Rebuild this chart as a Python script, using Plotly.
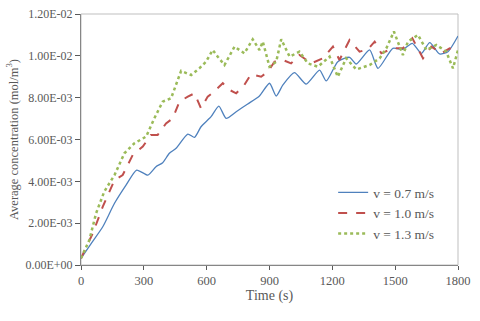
import plotly.graph_objects as go

# time (s) and average concentration (mol/m3)
t_07 = [0, 50, 104, 160, 215, 266, 319, 358, 390, 422, 454, 510, 542, 573, 621, 658, 693,
        741, 796, 852, 900, 932, 964, 1019, 1075, 1139, 1171, 1226, 1282, 1314, 1378, 1418,
        1489, 1537, 1582, 1625, 1665, 1712, 1752, 1800]
c_07 = [0.32e-3, 1.05e-3, 1.83e-3, 2.95e-3, 3.82e-3, 4.54e-3, 4.30e-3, 4.70e-3, 4.89e-3,
        5.34e-3, 5.58e-3, 6.26e-3, 6.10e-3, 6.61e-3, 7.09e-3, 7.60e-3, 7.01e-3, 7.33e-3,
        7.70e-3, 8.08e-3, 8.69e-3, 8.08e-3, 8.61e-3, 9.20e-3, 8.65e-3, 9.32e-3, 8.80e-3,
        9.72e-3, 9.93e-3, 9.61e-3, 10.28e-3, 9.40e-3, 10.36e-3, 10.31e-3, 10.60e-3,
        10.12e-3, 10.63e-3, 10.09e-3, 10.20e-3, 10.95e-3]

t_10 = [0, 56, 104, 160, 199, 247, 295, 334, 366, 406, 438, 470, 510, 542, 573, 605, 629,
        677, 709, 741, 780, 812, 860, 892, 924, 964, 1003, 1043, 1099, 1155, 1203, 1234,
        1282, 1330, 1370, 1402, 1434, 1489, 1537, 1582, 1633, 1673, 1721, 1760, 1800]
c_10 = [0.32e-3, 1.51e-3, 2.79e-3, 4.06e-3, 4.30e-3, 5.26e-3, 5.66e-3, 6.22e-3, 6.22e-3,
        6.77e-3, 7.01e-3, 7.81e-3, 8.05e-3, 8.21e-3, 7.49e-3, 8.05e-3, 8.24e-3, 8.69e-3,
        8.37e-3, 8.21e-3, 8.61e-3, 9.13e-3, 9.00e-3, 9.24e-3, 9.72e-3, 9.80e-3, 9.64e-3,
        10.04e-3, 9.64e-3, 9.88e-3, 10.44e-3, 9.80e-3, 10.76e-3, 10.20e-3, 10.31e-3,
        10.68e-3, 10.12e-3, 10.36e-3, 10.36e-3, 10.84e-3, 9.88e-3, 10.44e-3, 10.12e-3,
        10.36e-3, 10.25e-3]

t_13 = [0, 40, 72, 111, 160, 207, 255, 311, 350, 390, 430, 454, 478, 526, 565, 597, 629,
        653, 685, 733, 780, 820, 852, 868, 900, 932, 956, 996, 1043, 1083, 1131, 1187, 1226,
        1266, 1314, 1378, 1426, 1458, 1494, 1537, 1561, 1609, 1649, 1697, 1744, 1776, 1800]
c_13 = [0.32e-3, 1.20e-3, 2.47e-3, 3.51e-3, 4.30e-3, 5.34e-3, 5.82e-3, 6.14e-3, 7.01e-3,
        7.81e-3, 7.97e-3, 8.61e-3, 9.28e-3, 9.08e-3, 9.40e-3, 9.72e-3, 10.28e-3, 9.96e-3,
        9.56e-3, 10.44e-3, 10.12e-3, 10.79e-3, 10.28e-3, 10.68e-3, 9.48e-3, 9.72e-3,
        10.79e-3, 9.96e-3, 10.20e-3, 9.64e-3, 9.48e-3, 9.96e-3, 9.00e-3, 9.88e-3, 9.35e-3,
        9.56e-3, 9.88e-3, 10.36e-3, 11.16e-3, 10.04e-3, 10.68e-3, 11.00e-3, 10.28e-3,
        10.52e-3, 10.20e-3, 9.40e-3, 10.28e-3]

x_ticks = [0, 300, 600, 900, 1200, 1500, 1800]
y_ticks = [0, 0.002, 0.004, 0.006, 0.008, 0.010, 0.012]
y_tick_text = ["0.00E+00", "2.00E-03", "4.00E-03", "6.00E-03", "8.00E-03", "1.00E-02", "1.20E-02"]

fig = go.Figure()
fig.add_trace(go.Scatter(x=t_07, y=c_07, mode="lines", name="v = 0.7 m/s",
                         line=dict(color="#4F81BD", width=1.3, shape="spline", smoothing=0.6)))
fig.add_trace(go.Scatter(x=t_10, y=c_10, mode="lines", name="v = 1.0 m/s",
                         line=dict(color="#C0504D", width=2, dash="dash")))
fig.add_trace(go.Scatter(x=t_13, y=c_13, mode="lines", name="v = 1.3 m/s",
                         line=dict(color="#9BBB59", width=2.5, dash="dot")))

grey = "#595959"
fig.update_layout(
    width=480, height=321,
    margin=dict(l=81, r=22, t=14, b=56),
    paper_bgcolor="white", plot_bgcolor="white",
    font=dict(family="Liberation Serif", size=12, color=grey),
    showlegend=True,
    legend=dict(x=0.95, y=0.35, xanchor="right", yanchor="top", bgcolor="rgba(0,0,0,0)",
                font=dict(size=13.5, color=grey), tracegroupgap=0, itemwidth=30),
    xaxis=dict(range=[0, 1800], tickvals=x_ticks, showgrid=False, zeroline=False,
               showline=True, linecolor="#868686", linewidth=1, automargin=False,
               ticks="outside", ticklen=4, tickcolor="#595959", tickfont=dict(size=12.5),
               title=dict(text="Time (s)", font=dict(size=14, color=grey), standoff=3)),
    xaxis2=dict(range=[0, 1800], tickvals=x_ticks, overlaying="x", matches="x", anchor="y",
                showticklabels=False, ticks="inside", ticklen=4, tickcolor="#595959",
                showgrid=False, zeroline=False, showline=False, automargin=False),
    yaxis=dict(range=[0, 0.012], tickvals=y_ticks, ticktext=y_tick_text, showgrid=False,
               zeroline=False, showline=True, linecolor="#868686", linewidth=1,
               automargin=False, tickfont=dict(size=12),
               ticks="outside", ticklen=5, tickcolor="#595959",
               title=dict(text="Average concentration (mol/m<sup>3</sup>)",
                          font=dict(size=12.5, color=grey), standoff=4)),
    shapes=[dict(type="rect", xref="paper", yref="paper", x0=0, x1=1, y0=0, y1=1,
                 line=dict(color="#BFBFBF", width=1), layer="below")],
)

fig.write_html("out.html", config={"displayModeBar": False},
               post_script="document.body.style.margin='0';")
